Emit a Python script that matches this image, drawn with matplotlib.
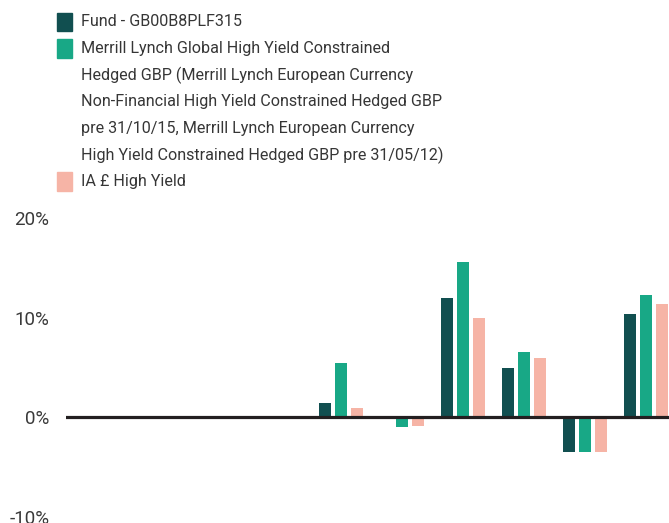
import numpy as np
import matplotlib
matplotlib.use("Agg")
import matplotlib.pyplot as plt
from matplotlib.patches import Rectangle

plt.rcParams['font.family'] = ['Roboto', 'DejaVu Sans']

# discrete yearly performance, 10 periods (first four have no data)
periods = list(range(10))
fund = [np.nan, np.nan, np.nan, np.nan, 1.4, 0.0, 12.0, 4.9, -3.5, 10.4]
index = [np.nan, np.nan, np.nan, np.nan, 5.5, -1.0, 15.6, 6.6, -3.5, 12.3]
sector = [np.nan, np.nan, np.nan, np.nan, 0.9, -0.9, 10.0, 6.0, -3.5, 11.4]

labels = [
    "Fund - GB00B8PLF315",
    "Merrill Lynch Global High Yield Constrained\n"
    "Hedged GBP (Merrill Lynch European Currency\n"
    "Non-Financial High Yield Constrained Hedged GBP\n"
    "pre 31/10/15, Merrill Lynch European Currency\n"
    "High Yield Constrained Hedged GBP pre 31/05/12)",
    "IA £ High Yield",
]
colors = ['#114f50', '#18a886', '#f6b4a6']
yticks = [-10, 0, 10, 20]

W, H = 669, 523
fig = plt.figure(figsize=(W / 100, H / 100), dpi=100)
# axes runs a little past the right edge, like the original crop
ax = fig.add_axes([66 / W, 1 - 517 / H, 610.5 / W, 299 / H])

x = np.arange(len(periods))
bw = 0.2
off = 0.262
for i, (vals, c) in enumerate(zip([fund, index, sector], colors)):
    ax.bar(x + (i - 1) * off, vals, width=bw, color=c, zorder=2)

ax.axhline(0, color='#231f20', lw=2.3, zorder=3)
ax.set_xlim(-0.5, 9.5)
ax.set_ylim(-10, 20)
ax.set_yticks(yticks)
ax.set_yticklabels([f"{t}%" for t in yticks])
ax.set_xticks([])
ax.tick_params(axis='y', length=0, pad=12, labelsize=13.5, labelcolor='#3a3a3a')
for s in ax.spines.values():
    s.set_visible(False)

# legend drawn by hand
line_h = 26.6
y = 22
for lab, c in zip(labels, colors):
    fig.add_artist(Rectangle((57 / W, 1 - (y + 9.3) / H), 15 / W, 18.6 / H,
                             transform=fig.transFigure, color=c))
    for ln in lab.split("\n"):
        fig.text(81 / W, 1 - y / H, ln, va='center', ha='left',
                 fontsize=11.6, color='#363636')
        y += line_h

fig.savefig("out.png", dpi=100)
